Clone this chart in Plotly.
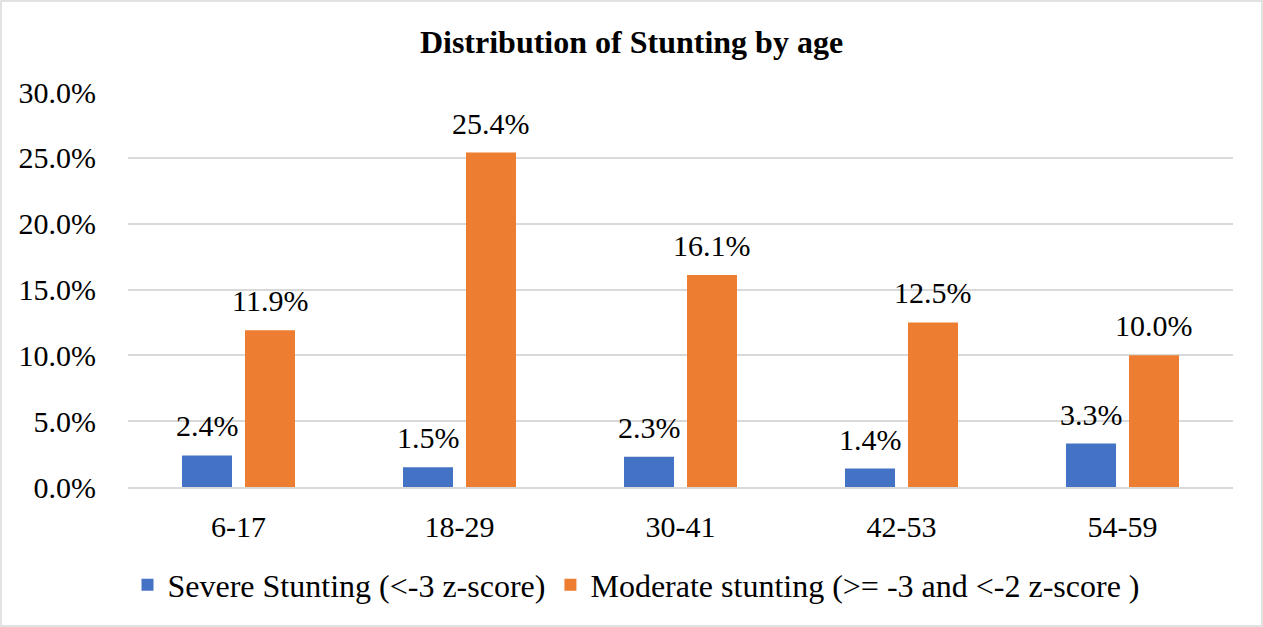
import plotly.graph_objects as go

categories = ["6-17", "18-29", "30-41", "42-53", "54-59"]
severe = [0.024, 0.015, 0.023, 0.014, 0.033]
moderate = [0.119, 0.254, 0.161, 0.125, 0.100]
series_names = ["Severe Stunting (<-3 z-score)", "Moderate stunting (>= -3 and <-2 z-score )"]
tick_vals = [0, 0.05, 0.10, 0.15, 0.20, 0.25, 0.30]

W, H = 1263, 627
ml, mr, mt, mb = 128, 30, 92, 140
pw, ph = W - ml - mr, H - mt - mb

font = "Liberation Serif"
FS = 30

fig = go.Figure()
fig.add_trace(go.Bar(x=categories, y=severe, name=series_names[0],
                     marker=dict(color="#4472C4", line=dict(width=0))))
fig.add_trace(go.Bar(x=categories, y=moderate, name=series_names[1],
                     marker=dict(color="#ED7D31", line=dict(width=0))))

annotations = []
for vals, dx in ((severe, -31.5), (moderate, 31.5)):
    for c, v in zip(categories, vals):
        annotations.append(dict(x=c, y=v, xref="x", yref="y", text=f"{v*100:.1f}%",
                                showarrow=False, xshift=dx, yanchor="bottom", yshift=11,
                                font=dict(size=FS, family=font, color="#000")))

fig.update_layout(
    width=W, height=H,
    margin=dict(l=ml, r=mr, t=mt, b=mb),
    paper_bgcolor="white", plot_bgcolor="white",
    font=dict(family=font, size=FS, color="#000"),
    title=dict(text="<b>Distribution of Stunting by age</b>", x=0.5, xanchor="center",
               y=1 - 42 / H, yanchor="middle", font=dict(size=32, family=font, color="#000")),
    barmode="group", bargap=0.43, bargroupgap=0.206,
    xaxis=dict(showgrid=False, showline=True, linecolor="#D9D9D9", linewidth=1.5,
               ticks="", tickfont=dict(size=FS, family=font), ticklabelstandoff=12),
    yaxis=dict(range=[0, 0.30], tickvals=tick_vals, tickformat=".1%",
               showgrid=True, gridcolor="#D9D9D9", gridwidth=1.5, zeroline=False,
               showline=False, ticks="", tickfont=dict(size=FS, family=font), ticklabelstandoff=31),
    legend=dict(orientation="h", x=(636 - ml) / pw, xanchor="center", y=-(585 - 487) / ph,
                yanchor="middle", font=dict(size=32, family=font), traceorder="normal"),
    showlegend=True,
    annotations=annotations,
    shapes=[dict(type="rect", xref="paper", yref="paper",
                 x0=-(ml - 1) / pw, x1=1 + (mr - 1) / pw,
                 y0=-(mb - 1) / ph, y1=1 + (mt - 1) / ph,
                 line=dict(color="#D9D9D9", width=1.5))],
)

fig.write_html("out.html", config={"displayModeBar": False},
               post_script="document.body.style.margin='0';document.body.style.padding='0';")
